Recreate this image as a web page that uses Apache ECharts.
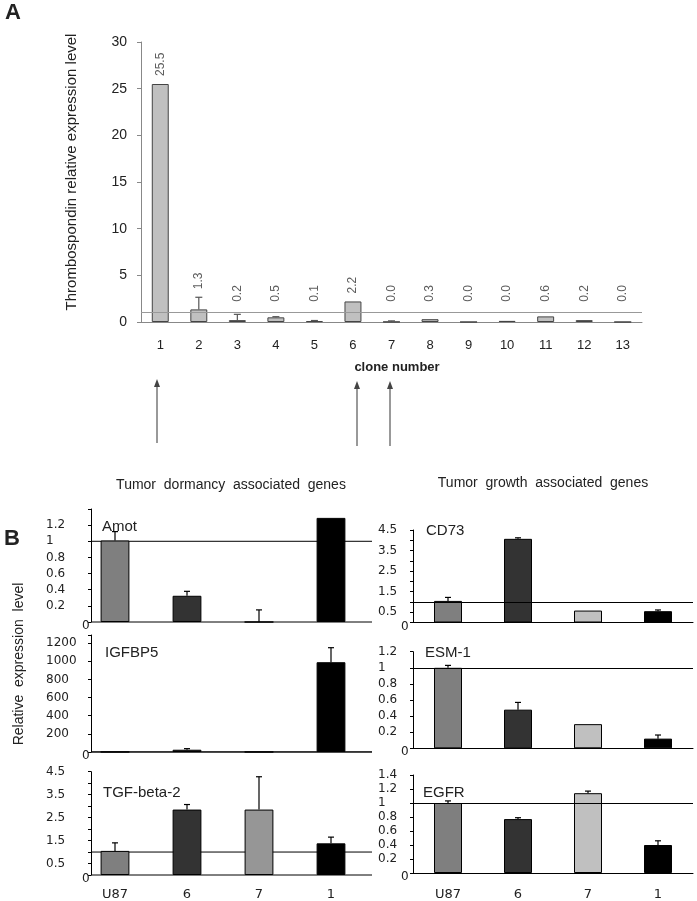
<!DOCTYPE html>
<html><head><meta charset="utf-8">
<script src="https://cdn.jsdelivr.net/npm/echarts@6/dist/echarts.min.js"></script>
<style>html,body{margin:0;padding:0;background:#fff}#c{width:697px;height:901px}</style>
</head><body><div id="c"></div>
<script>
// ---------- Panel A data ----------
const cloneNumbers = ['1','2','3','4','5','6','7','8','9','10','11','12','13'];
const thbsValues   = [25.5, 1.35, 0.2, 0.5, 0.1, 2.2, 0.02, 0.3, 0, 0.12, 0.6, 0.2, 0];
const thbsErrors   = [0, 1.3, 0.62, 0.07, 0.06, 0, 0.1, 0, 0, 0, 0, 0, 0];
const thbsLabels   = ['25.5','1.3','0.2','0.5','0.1','2.2','0.0','0.3','0.0','0.0','0.6','0.2','0.0'];

// ---------- Panel B data ----------
const cellLines   = ['U87','6','7','1'];
const amotValues  = [1.01, 0.325, 0, 1.29];
const amotErrors  = [0.11, 0.055, 0.15, 0];
const igfValues   = [1, 25, 1, 990];
const igfErrors   = [0, 12, 0, 160];
const tgfValues   = [1.05, 2.85, 2.85, 1.38];
const tgfErrors   = [0.35, 0.22, 1.43, 0.27];
const cd73Values  = [1.05, 4.07, 0.58, 0.55];
const cd73Errors  = [0.17, 0.05, 0, 0.06];
const esmValues   = [1.0, 0.48, 0.3, 0.12];
const esmErrors   = [0.03, 0.09, 0, 0.045];
const egfrValues  = [1.0, 0.77, 1.14, 0.4];
const egfrErrors  = [0.03, 0.02, 0.03, 0.06];

const colorsLeft  = ['#7f7f7f','#333333','#969696','#000000'];
const colorsRight = ['#7f7f7f','#333333','#c0c0c0','#000000'];

const ARIAL = 'Liberation Sans, Arial, sans-serif';
const DEJAVU = 'DejaVu Sans, Verdana, sans-serif';
const LEFT_AXIS_SHIFT = 12;

const chart = echarts.init(document.getElementById('c'), null, {renderer:'canvas'});

function errSeries(ax, values, errors, color, cap, lw){
  return {
    type:'custom', xAxisIndex:ax, yAxisIndex:ax, silent:true, z:5,
    data: values.map((v,i)=>[i, v, errors[i]]),
    encode:{x:0, y:1},
    renderItem(params, api){
      const e = api.value(2);
      if(!e) return;
      const i = api.value(0), v = api.value(1);
      const p0 = api.coord([i, v]);
      const p1 = api.coord([i, v+e]);
      return {type:'group', children:[
        {type:'line', shape:{x1:p0[0],y1:p0[1],x2:p1[0],y2:p1[1]}, style:{stroke:color, lineWidth:lw}},
        {type:'line', shape:{x1:p1[0]-cap,y1:p1[1],x2:p1[0]+cap,y2:p1[1]}, style:{stroke:color, lineWidth:lw}}
      ]};
    }
  };
}
// baseline (y=0) and reference line (y=1) starting at the shifted y axis
function frameSeries(ax){
  return {
    type:'custom', xAxisIndex:ax, yAxisIndex:ax, silent:true, z:1,
    data:[[0, 0]], encode:{x:0, y:1},
    renderItem(params, api){
      const cs = params.coordSys;
      const x1 = cs.x + LEFT_AXIS_SHIFT, x2 = cs.x + cs.width + 5;
      const y0 = api.coord([0, 0])[1], y1 = api.coord([0, 1])[1];
      return {type:'group', children:[
        {type:'line', shape:{x1:x1, y1:y0, x2:x2, y2:y0}, style:{stroke:'#000', lineWidth:1}},
        {type:'line', shape:{x1:x1, y1:y1, x2:x2, y2:y1}, style:{stroke:'#000', lineWidth:1}}
      ]};
    }
  };
}

const grids = [], xAxes = [], yAxes = [], series = [];

// Panel A
grids.push({left:141, top:42, width:501, height:280});
xAxes.push({type:'category', gridIndex:0, data:cloneNumbers,
  axisLine:{lineStyle:{color:'#888', width:1}},
  axisTick:{length:4, lineStyle:{color:'#888'}},
  axisLabel:{margin:17, fontSize:13, color:'#222', fontFamily:ARIAL}});
yAxes.push({type:'value', gridIndex:0, min:0, max:30, interval:5,
  splitLine:{show:false},
  axisLine:{show:true, lineStyle:{color:'#888', width:1}},
  axisTick:{show:true, length:4, lineStyle:{color:'#888'}},
  axisLabel:{margin:14, fontSize:14, color:'#222', fontFamily:ARIAL}});
series.push({type:'bar', xAxisIndex:0, yAxisIndex:0, data:thbsValues, barWidth:'44%',
  itemStyle:{color:'#c0c0c0', borderColor:'#444', borderWidth:1},
  markLine:{silent:true, symbol:'none', label:{show:false},
    lineStyle:{color:'#999', type:'solid', width:1.2}, data:[{yAxis:1}]}});
series.push(errSeries(0, thbsValues, thbsErrors, '#555', 3.5, 1.2));
series.push({type:'scatter', xAxisIndex:0, yAxisIndex:0, symbolSize:0, silent:true,
  data: thbsValues.map((v,i)=>[i, Math.max(v + thbsErrors[i], 1.3)]),
  label:{show:true, position:'top', distance:8, rotate:90, align:'left', verticalAlign:'middle',
    fontSize:12, color:'#333', fontFamily:ARIAL,
    formatter:(p)=>thbsLabels[p.dataIndex]}});

// Panel B charts
const bCharts = [
  {vals:amotValues, errs:amotErrors, cols:colorsLeft,  grid:{left:79, top:509, width:288, height:113},
   max:1.4, interval:0.2, side:'L', show:v=>v<=1.2001, bottom:false},
  {vals:igfValues,  errs:igfErrors,  cols:colorsLeft,  grid:{left:79, top:635, width:288, height:117},
   max:1290, interval:200, side:'L', show:v=>v<=1200 && v%200===0, bottom:false},
  {vals:tgfValues,  errs:tgfErrors,  cols:colorsLeft,  grid:{left:79, top:771.7, width:288, height:104.3},
   max:4.5, interval:0.5, side:'L', show:v=>Math.abs((v*2)%2-1)<1e-6, bottom:true},
  {vals:cd73Values, errs:cd73Errors, cols:colorsRight, grid:{left:413, top:530, width:280, height:92.5},
   max:4.5, interval:0.5, side:'R', show:v=>Math.abs((v*2)%2-1)<1e-6, bottom:false},
  {vals:esmValues,  errs:esmErrors,  cols:colorsRight, grid:{left:413, top:651.7, width:280, height:96.6},
   max:1.2, interval:0.2, side:'R', show:v=>v<=1.2001, bottom:false},
  {vals:egfrValues, errs:egfrErrors, cols:colorsRight, grid:{left:413, top:775, width:280, height:98.3},
   max:1.4, interval:0.2, side:'R', show:v=>v<=1.4001, bottom:true}
];

bCharts.forEach((c, k)=>{
  const ax = k + 1;
  const left = c.side === 'L';
  grids.push(c.grid);
  xAxes.push({type:'category', gridIndex:ax, data:cellLines,
    axisLine:{show:!left, lineStyle:{color:'#000', width:1}},
    axisTick:{length:3, lineStyle:{color:'#000'},
      interval: left ? ((i)=> i > 0 && i < cellLines.length) : 0},
    axisLabel:{show:c.bottom, margin:left?13:15, fontSize:13, color:'#222', fontFamily:DEJAVU}});
  yAxes.push({type:'value', gridIndex:ax, min:0, max:c.max, interval:c.interval,
    offset: left ? -LEFT_AXIS_SHIFT : 0,
    splitLine:{show:false},
    axisLine:{show:true, lineStyle:{color:'#000', width:1}},
    axisTick:{show:true, length:3, lineStyle:{color:'#000'}},
    axisLabel:{margin:left?45:35, align:'left', fontSize:12, color:'#222', fontFamily:DEJAVU,
      formatter:(v)=>{
        if (v === 0) return '{z|0}';
        if (!c.show(v)) return '';
        return String(Math.round(v*10)/10);
      },
      rich:{z:{fontSize:12, color:'#222', fontFamily:DEJAVU, padding:[8,0,0,left?36:23]}}}});
  const bar = {type:'bar', xAxisIndex:ax, yAxisIndex:ax, barWidth:'40%',
    data: c.vals.map((v,i)=>({value:v, itemStyle:{color:c.cols[i]}})),
    itemStyle:{borderColor:'#000', borderWidth:1}, z:2};
  if (!left) {
    bar.markLine = {silent:true, symbol:'none', label:{show:false},
      lineStyle:{color:'#000', type:'solid', width:1}, data:[{yAxis:1}]};
  }
  series.push(bar);
  if (left) series.push(frameSeries(ax));
  series.push(errSeries(ax, c.vals, c.errs, '#000', 3, 1.2));
});

function txt(x, y, text, font, align, extra){
  return Object.assign({type:'text', x:x, y:y, silent:true,
    style:{text:text, font:font, fill:'#222', align:align||'left', verticalAlign:'middle',
      textAlign:align||'left', textVerticalAlign:'middle'}}, extra||{});
}
function arrow(x, y1, y2){
  return {type:'group', silent:true, children:[
    {type:'line', shape:{x1:x, y1:y1+6, x2:x, y2:y2}, style:{stroke:'#777', lineWidth:1.5}},
    {type:'polygon', shape:{points:[[x, y1],[x-3, y1+8],[x+3, y1+8]]}, style:{fill:'#444'}}
  ]};
}

const graphics = [
  txt(5, 13, 'A', 'bold 22px ' + ARIAL),
  txt(72, 172, 'Thrombospondin relative expression level', '15px ' + ARIAL, 'center', {rotation:Math.PI/2}),
  txt(397, 367, 'clone number', 'bold 13px ' + ARIAL, 'center'),
  arrow(157, 379, 443),
  arrow(357, 381, 446),
  arrow(390, 381, 446),
  txt(4, 539, 'B', 'bold 22px ' + ARIAL),
  txt(231, 485, 'Tumor  dormancy  associated  genes', '14px ' + ARIAL, 'center'),
  txt(543, 483, 'Tumor  growth  associated  genes', '14px ' + ARIAL, 'center'),
  txt(19, 664, 'Relative  expression  level', '14px ' + ARIAL, 'center', {rotation:Math.PI/2}),
  txt(102, 527, 'Amot', '15px ' + ARIAL),
  txt(105, 653, 'IGFBP5', '15px ' + ARIAL),
  txt(103, 793, 'TGF-beta-2', '15px ' + ARIAL),
  txt(426, 531, 'CD73', '15px ' + ARIAL),
  txt(425, 653, 'ESM-1', '15px ' + ARIAL),
  txt(423, 793, 'EGFR', '15px ' + ARIAL)
];

chart.setOption({
  animation:false,
  backgroundColor:'#fff',
  grid:grids, xAxis:xAxes, yAxis:yAxes, series:series,
  graphic:graphics
});
</script>
</body></html>
